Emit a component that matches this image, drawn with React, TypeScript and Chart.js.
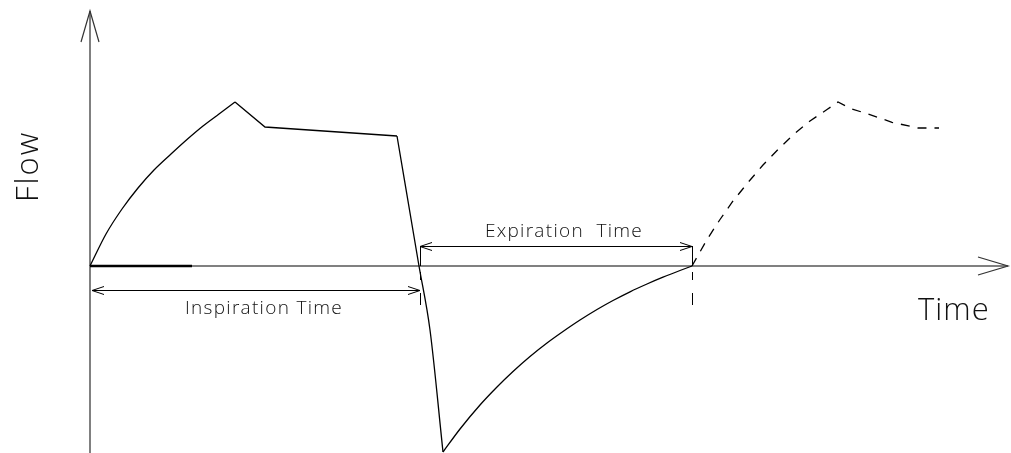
import React, { useEffect, useRef } from "react";
import { Chart, registerables } from "chart.js";

Chart.register(...registerables);

// Time in arbitrary units (origin at start of inspiration), flow in arbitrary units (0 = no flow)
const riseTime = [0, 0.16, 0.32, 0.48, 0.64, 0.81, 0.97, 1.13, 1.29, 1.45];
const riseFlow = [0, 0.32, 0.57, 0.78, 0.96, 1.12, 1.265, 1.4, 1.52, 1.64];

const plateauTime = [1.45, 1.75, 3.07];
const plateauFlow = [1.64, 1.39, 1.3];

const dropTime = [3.07, 3.29, 3.4, 3.53];
const dropFlow = [1.3, 0, -0.64, -1.86];

const expTime = [3.53, 3.7, 3.9, 4.07, 4.23, 4.4, 4.57, 4.73, 4.9, 5.07, 5.23, 5.4, 5.57, 5.73, 5.9, 6.02];
const expFlow = [-1.86, -1.63, -1.39, -1.21, -1.055, -0.905, -0.77, -0.655, -0.54, -0.435, -0.345, -0.258, -0.18, -0.112, -0.045, 0];

const nextTime = [6.02, 6.17, 6.3, 6.43, 6.58, 6.73, 6.88, 7.03, 7.2, 7.37, 7.48, 7.6, 7.82, 8.02, 8.28, 8.49];
const nextFlow = [0, 0.265, 0.465, 0.65, 0.835, 1.01, 1.165, 1.31, 1.45, 1.565, 1.64, 1.577, 1.507, 1.437, 1.38, 1.38];

const triggerTime = [0, 1.02];
const triggerFlow = [0, 0];

const dimLabels = ["Inspiration Time", "Expiration  Time"];
const dimStart = [0, 3.3];
const dimEnd = [3.3, 6.02];
const dimLevel = [-0.24, 0.2];

const axisLabels = ["Time", "Flow"];
const axisTimeEnd = 9.18;
const axisFlowEnd = 2.55;

const pts = (xs: number[], ys: number[]) => xs.map((x, i) => ({ x, y: ys[i] }));

const drawingPlugin = {
  id: "drawing",
  beforeDatasetsDraw(chart: any) {
    const { ctx } = chart;
    const xs = chart.scales.x;
    const ys = chart.scales.y;
    const X = (v: number) => xs.getPixelForValue(v);
    const Y = (v: number) => ys.getPixelForValue(v);
    const line = (a: number, b: number, c: number, d: number) => {
      ctx.beginPath();
      ctx.moveTo(a, b);
      ctx.lineTo(c, d);
      ctx.stroke();
    };
    ctx.save();
    ctx.strokeStyle = "#808080";
    ctx.lineWidth = 2;
    line(X(0), Y(ys.min), X(0), Y(axisFlowEnd));
    line(X(0), Y(0), X(axisTimeEnd), Y(0));
    // axis arrowheads
    ctx.strokeStyle = "#333";
    ctx.lineWidth = 1.2;
    const tx = X(0), ty = Y(axisFlowEnd);
    ctx.beginPath();
    ctx.moveTo(tx - 9, ty + 31);
    ctx.lineTo(tx, ty);
    ctx.lineTo(tx + 9, ty + 31);
    ctx.stroke();
    const rx = X(axisTimeEnd), ry = Y(0);
    ctx.beginPath();
    ctx.moveTo(rx - 30, ry - 9);
    ctx.lineTo(rx, ry);
    ctx.lineTo(rx - 30, ry + 9);
    ctx.stroke();
    ctx.restore();
  },
  afterDatasetsDraw(chart: any) {
    const { ctx } = chart;
    const xs = chart.scales.x;
    const ys = chart.scales.y;
    const X = (v: number) => xs.getPixelForValue(v);
    const Y = (v: number) => ys.getPixelForValue(v);
    const line = (a: number, b: number, c: number, d: number) => {
      ctx.beginPath();
      ctx.moveTo(a, b);
      ctx.lineTo(c, d);
      ctx.stroke();
    };
    ctx.save();
    ctx.strokeStyle = "#000";
    ctx.lineWidth = 1;
    const y0 = Y(0);
    const extTop = Y(Math.max(...dimLevel));
    // extension lines at the phase boundaries
    dimEnd.forEach((t) => {
      const ex = Math.round(X(t)) + 0.5;
      line(ex, extTop, ex, y0);
      line(ex, y0 + 6, ex, y0 + 14);
      line(ex, y0 + 27, ex, y0 + 39);
    });
    // dimension arrows
    dimLabels.forEach((lab, i) => {
      const x1 = X(dimStart[i]) + (dimStart[i] === 0 ? 2 : 0);
      const x2 = X(dimEnd[i]);
      const yy = Math.round(Y(dimLevel[i])) + 0.5;
      line(x1, yy, x2, yy);
      ctx.beginPath();
      ctx.moveTo(x1 + 12, yy - 4);
      ctx.lineTo(x1, yy);
      ctx.lineTo(x1 + 12, yy + 4);
      ctx.stroke();
      ctx.beginPath();
      ctx.moveTo(x2 - 12, yy - 4);
      ctx.lineTo(x2, yy);
      ctx.lineTo(x2 - 12, yy + 4);
      ctx.stroke();
      ctx.fillStyle = "#111";
      ctx.font = '300 19px "Open Sans"';
      (ctx as any).letterSpacing = "1.3px";
      ctx.textAlign = "center";
      ctx.textBaseline = "alphabetic";
      const mid = (x1 + x2) / 2 + 8;
      const base = dimLevel[i] < 0 ? yy + 23 : yy - 9.5;
      ctx.fillText(lab, mid, base);
    });
    // axis titles
    ctx.fillStyle = "#111";
    ctx.font = '300 31px "Open Sans"';
    (ctx as any).letterSpacing = "1px";
    ctx.textAlign = "left";
    ctx.textBaseline = "alphabetic";
    ctx.fillText(axisLabels[0], X(8.28), Y(-0.54));
    ctx.save();
    ctx.translate(X(-0.52), Y(0.64));
    ctx.rotate(-Math.PI / 2);
    (ctx as any).letterSpacing = "2px";
    ctx.fillText(axisLabels[1], 0, 0);
    ctx.restore();
    ctx.restore();
  },
};

export default function App() {
  const ref = useRef<HTMLCanvasElement>(null);
  useEffect(() => {
    const canvas = ref.current;
    if (!canvas) return;
    const solid = { borderColor: "#000", borderWidth: 1.3, showLine: true, pointRadius: 0, fill: false };
    const chart = new Chart(canvas, {
      type: "scatter",
      data: {
        datasets: [
          { ...solid, data: pts(triggerTime, triggerFlow), borderWidth: 2.4, tension: 0 },
          { ...solid, data: pts(riseTime, riseFlow), cubicInterpolationMode: "monotone" },
          { ...solid, data: pts(plateauTime, plateauFlow), tension: 0 },
          { ...solid, data: pts(dropTime, dropFlow), cubicInterpolationMode: "monotone" },
          { ...solid, data: pts(expTime, expFlow), cubicInterpolationMode: "monotone" },
          { ...solid, data: pts(nextTime, nextFlow), tension: 0, borderDash: [9, 8] },
        ] as any,
      },
      options: {
        responsive: false,
        animation: false,
        events: [],
        layout: { padding: 0 },
        scales: {
          x: { type: "linear", min: -0.9, max: 9.21, display: false },
          y: { type: "linear", min: -1.87, max: 2.66, display: false },
        },
        plugins: {
          legend: { display: false },
          tooltip: { enabled: false },
          title: { display: false },
        },
      },
      plugins: [drawingPlugin],
    });
    return () => chart.destroy();
  }, []);
  return (
    <div style={{ position: "absolute", left: 0, top: 0, width: 1011, height: 453, background: "#fff" }}>
      <canvas ref={ref} width={1011} height={453} style={{ display: "block" }} />
    </div>
  );
}
